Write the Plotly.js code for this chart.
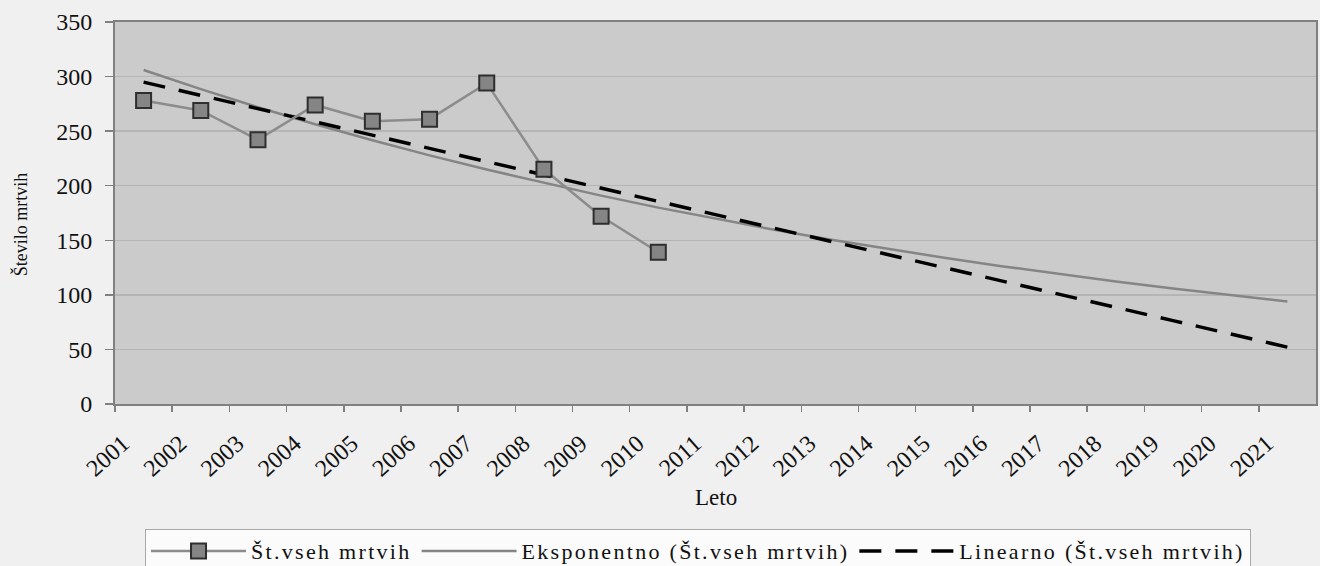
<!DOCTYPE html>
<html>
<head>
<meta charset="utf-8">
<script src="https://cdn.plot.ly/plotly-3.0.1.min.js"></script>
<style>
  html, body { margin: 0; padding: 0; background: #f0f0f0; }
  #chart { width: 1320px; height: 566px; }
  .legendtext { letter-spacing: 2.3px; }
</style>
</head>
<body>
<div id="chart"></div>
<script>
// Data
const years = [2001, 2002, 2003, 2004, 2005, 2006, 2007, 2008, 2009, 2010];
const deaths = [278, 269, 242, 274, 259, 261, 294, 215, 172, 139];

const trendYears = [2001, 2002, 2003, 2004, 2005, 2006, 2007, 2008, 2009, 2010,
                    2011, 2012, 2013, 2014, 2015, 2016, 2017, 2018, 2019, 2020, 2021];
const expTrend = [306, 288.5, 271.9, 256.3, 241.7, 227.8, 214.8, 202.5, 190.9, 179.9,
                  169.6, 159.9, 150.7, 142.1, 134.0, 126.3, 119.0, 112.2, 105.8, 99.7, 94.0];
const linTrend = [294.9, 282.8, 270.6, 258.5, 246.3, 234.2, 222.1, 209.9, 197.8, 185.6,
                  173.5, 161.4, 149.2, 137.1, 124.9, 112.8, 100.7, 88.5, 76.4, 64.2, 52.1];

const tickYears = [2001, 2002, 2003, 2004, 2005, 2006, 2007, 2008, 2009, 2010, 2011,
                   2012, 2013, 2014, 2015, 2016, 2017, 2018, 2019, 2020, 2021];

const seriesName = "Št.vseh mrtvih";
const expName = "Eksponentno (Št.vseh mrtvih)";
const linName = "Linearno (Št.vseh mrtvih)";
const yTitle = "Število mrtvih";
const xTitle = "Leto";

// each year is a category slot; points sit in the middle of the slot
const mid = y => y + 0.5;

const FONT = "Liberation Serif, Times New Roman, serif";

const traces = [
  {
    x: trendYears.map(mid), y: expTrend, name: expName, type: "scatter", mode: "lines",
    line: { color: "#858585", width: 2.5 }, legendrank: 2, hoverinfo: "skip"
  },
  {
    x: trendYears.map(mid), y: linTrend, name: linName, type: "scatter", mode: "lines",
    line: { color: "#000000", width: 3.5, dash: "22px,14px" }, legendrank: 3, hoverinfo: "skip"
  },
  {
    x: years.map(mid), y: deaths, name: seriesName, type: "scatter", mode: "lines+markers",
    line: { color: "#8c8c8c", width: 2.5 },
    marker: { symbol: "square", size: 15, color: "#858585", line: { color: "#2e2e2e", width: 2 } },
    legendrank: 1
  }
];

const layout = {
  width: 1320, height: 566,
  margin: { l: 115, r: 4, t: 22, b: 162, autoexpand: false },
  paper_bgcolor: "#f0f0f0",
  plot_bgcolor: "#cbcbcb",
  font: { family: FONT, size: 24, color: "#111111" },
  showlegend: true,
  xaxis: {
    type: "linear",
    range: [2001, 2022],
    tickmode: "array",
    tickvals: tickYears,
    ticktext: tickYears.map(String),
    tickangle: -42,
    ticks: "outside", ticklen: 6, tickcolor: "#808080", tickwidth: 1.5,
    ticklabelstandoff: 8,
    ticklabelshift: 8,
    showgrid: false, zeroline: false,
    showline: true, linecolor: "#808080", linewidth: 2, mirror: true,
    tickfont: { family: FONT, size: 24, color: "#111111" },
    automargin: false,
    fixedrange: true
  },
  yaxis: {
    range: [0, 350],
    tickmode: "array",
    tickvals: [0, 50, 100, 150, 200, 250, 300, 350],
    ticks: "outside", ticklen: 8, tickcolor: "#808080", tickwidth: 1.5,
    ticklabelstandoff: 8,
    showgrid: true, gridcolor: "#b5b5b5", gridwidth: 1.5,
    zeroline: false,
    showline: true, linecolor: "#808080", linewidth: 2, mirror: true,
    tickfont: { family: FONT, size: 24, color: "#111111" },
    automargin: false,
    fixedrange: true
  },
  legend: {
    orientation: "h",
    x: 0.025, xanchor: "left",
    y: -0.3275, yanchor: "top",
    bgcolor: "#fbfbfb",
    bordercolor: "#a8a8a8", borderwidth: 1,
    font: { family: FONT, size: 22, color: "#111111" },
    itemwidth: 95,
    traceorder: "normal"
  },
  annotations: [
    {
      text: yTitle, xref: "paper", yref: "paper",
      x: -0.079, y: 0.471, xanchor: "center", yanchor: "middle",
      textangle: -90, showarrow: false,
      font: { family: FONT, size: 18, color: "#111111" }
    },
    {
      text: xTitle, xref: "paper", yref: "paper",
      x: 0.5, y: -0.2435, xanchor: "center", yanchor: "middle",
      showarrow: false,
      font: { family: FONT, size: 23, color: "#111111" }
    }
  ]
};

Plotly.newPlot("chart", traces, layout, { displayModeBar: false, staticPlot: true });
</script>
</body>
</html>
